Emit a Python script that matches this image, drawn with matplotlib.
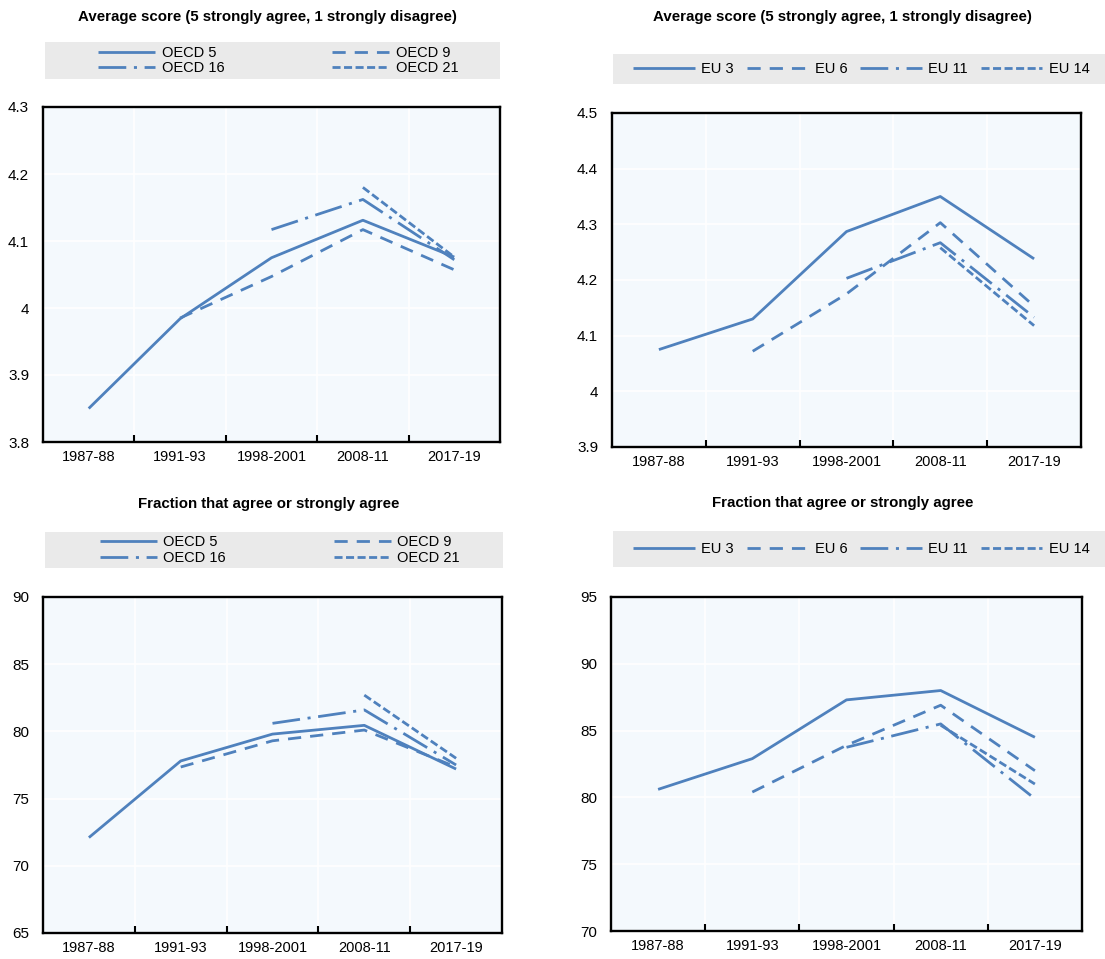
import matplotlib
matplotlib.use('Agg')
from matplotlib import pyplot as plt
from matplotlib.patches import Rectangle
from matplotlib.ticker import FixedLocator

plt.rcParams['font.family'] = ['Liberation Sans', 'DejaVu Sans']
plt.rcParams['lines.scale_dashes'] = False

periods = ['1987-88', '1991-93', '1998-2001', '2008-11', '2017-19']

# average score, OECD groups (None = no data)
oecd5_score = [3.85, 3.984, 4.075, 4.131, 4.076]
oecd9_score = [None, 3.985, 4.047, 4.117, 4.057]
oecd16_score = [None, None, 4.117, 4.162, 4.072]
oecd21_score = [None, None, None, 4.18, 4.076]

# average score, EU groups
eu3_score = [4.075, 4.13, 4.287, 4.35, 4.238]
eu6_score = [None, 4.072, 4.175, 4.303, 4.153]
eu11_score = [None, None, 4.203, 4.267, 4.133]
eu14_score = [None, None, None, 4.258, 4.118]

# fraction agree / strongly agree, OECD groups
oecd5_frac = [72.1, 77.8, 79.8, 80.45, 77.2]
oecd9_frac = [None, 77.35, 79.3, 80.1, 77.35]
oecd16_frac = [None, None, 80.6, 81.6, 77.5]
oecd21_frac = [None, None, None, 82.7, 78.0]

# fraction agree / strongly agree, EU groups
eu3_frac = [80.6, 82.9, 87.3, 88.0, 84.5]
eu6_frac = [None, 80.4, 83.9, 86.9, 82.0]
eu11_frac = [None, None, 83.75, 85.5, 79.9]
eu14_frac = [None, None, None, 85.4, 81.0]

title_score = 'Average score (5 strongly agree, 1 strongly disagree)'
title_frac = 'Fraction that agree or strongly agree'

blue = '#4F81BD'
fs = 10.5
styles = [
    dict(linestyle='-'),
    dict(linestyle=(0, (9.5, 6.5))),
    dict(linestyle=(0, (20, 5.5, 2.2, 5.5))),
    dict(linestyle=(0, (5.8, 2.5))),
]


def xy(values):
    pts = [(i, v) for i, v in enumerate(values) if v is not None]
    return [p[0] for p in pts], [p[1] for p in pts]


def panel(rect, series, labels, ylim, yticks, yfmt, title, title_y, legend_rect, two_rows):
    ax = fig.add_axes(rect)
    ax.set_facecolor('#F4F9FD')
    handles = []
    for vals, lab, st in zip(series, labels, styles):
        x, y = xy(vals)
        h, = ax.plot(x, y, color=blue, lw=2.0, label=lab, solid_capstyle='butt',
                     dash_capstyle='butt', **st)
        handles.append(h)
    ax.set_xlim(-0.5, 4.5)
    ax.set_ylim(*ylim)
    ax.set_xticks(range(5))
    ax.set_xticklabels(periods, fontsize=fs)
    ax.xaxis.set_minor_locator(FixedLocator([0.5, 1.5, 2.5, 3.5]))
    ax.tick_params(axis='x', which='major', length=0, pad=6)
    ax.tick_params(axis='x', which='minor', direction='in', length=5, width=1.5, color='black')
    ax.set_yticks(yticks)
    ax.set_yticklabels([yfmt(t) for t in yticks], fontsize=11)
    ax.tick_params(axis='y', length=0, pad=10)
    ax.grid(True, axis='y', which='major', color='white', lw=1.2)
    ax.grid(True, axis='x', which='minor', color='white', lw=1.2)
    ax.set_axisbelow(True)
    for sp in ax.spines.values():
        sp.set_linewidth(1.7)
        sp.set_color('black')

    # grey legend band
    lx0, ly0, lx1, ly1 = legend_rect
    fig.patches.append(Rectangle((lx0 / W, 1 - ly1 / H), (lx1 - lx0) / W, (ly1 - ly0) / H,
                                 transform=fig.transFigure, facecolor='#EAEAEA',
                                 edgecolor='none', zorder=0))
    cy = 1 - (ly0 + ly1) / 2 / H
    if two_rows:
        order = [handles[0], handles[2], handles[1], handles[3]]
        fig.legend(order, [h.get_label() for h in order], loc='center',
                   bbox_to_anchor=((lx0 + lx1) / 2 / W + 6 / W, cy),
                   ncol=2, frameon=False, fontsize=fs, handlelength=3.9, handletextpad=0.45,
                   columnspacing=7.4, labelspacing=0.1, borderpad=0.0)
    else:
        fig.legend(handles, labels, loc='center left', bbox_to_anchor=(626 / W, cy),
                   ncol=4, frameon=False, fontsize=fs, handlelength=4.2, handletextpad=0.45,
                   columnspacing=0.9, borderpad=0.0)
    fig.text(rect[0] + rect[2] / 2 - 4 / W, 1 - title_y / H, title,
             ha='center', va='center', fontsize=10.8, fontweight='bold')
    return ax


if __name__ == '__main__':
    W, H = 1105, 959
    fig = plt.figure(figsize=(W / 100, H / 100), dpi=100)

    fmt1 = lambda t: f'{t:g}'
    fmt0 = lambda t: f'{t:.0f}'

    panel([43 / W, 1 - 442 / H, 457 / W, 335 / H],
          [oecd5_score, oecd9_score, oecd16_score, oecd21_score],
          ['OECD 5', 'OECD 9', 'OECD 16', 'OECD 21'],
          (3.8, 4.3), [3.8, 3.9, 4.0, 4.1, 4.2, 4.3], fmt1, title_score, 17,
          (45, 42, 500, 79), True)
    panel([612 / W, 1 - 447 / H, 469 / W, 334 / H],
          [eu3_score, eu6_score, eu11_score, eu14_score],
          ['EU 3', 'EU 6', 'EU 11', 'EU 14'],
          (3.9, 4.5), [3.9, 4.0, 4.1, 4.2, 4.3, 4.4, 4.5], fmt1, title_score, 17,
          (613, 54, 1105, 84), False)
    panel([43 / W, 1 - 933 / H, 459 / W, 336 / H],
          [oecd5_frac, oecd9_frac, oecd16_frac, oecd21_frac],
          ['OECD 5', 'OECD 9', 'OECD 16', 'OECD 21'],
          (65, 90), [65, 70, 75, 80, 85, 90], fmt0, title_frac, 504,
          (45, 532, 503, 568), True)
    panel([611 / W, 1 - 931 / H, 471 / W, 334 / H],
          [eu3_frac, eu6_frac, eu11_frac, eu14_frac],
          ['EU 3', 'EU 6', 'EU 11', 'EU 14'],
          (70, 95), [70, 75, 80, 85, 90, 95], fmt0, title_frac, 503,
          (613, 531, 1105, 567), False)

    fig.savefig('out.png', dpi=100, facecolor='white')
